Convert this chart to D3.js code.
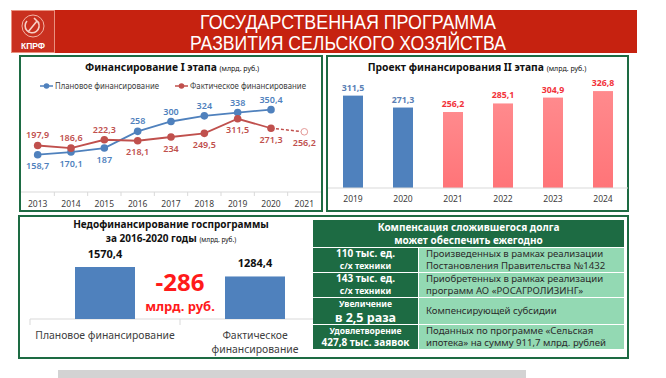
<!DOCTYPE html>
<html>
<head>
<meta charset="utf-8">
<title>Госпрограмма развития сельского хозяйства</title>
<script src="https://cdn.jsdelivr.net/npm/d3@7/dist/d3.min.js"></script>
<style>
  body { margin: 0; background: #fff; }
  svg text { font-family: "Noto Sans", "Open Sans", sans-serif; }
  .hdr text { font-family: "Liberation Sans Narrow", "Liberation Sans", Arial, sans-serif; }
</style>
</head>
<body>
<svg id="chart" width="666" height="378"></svg>

<script>
  // --- data ---
  var headerLines = ['ГОСУДАРСТВЕННАЯ ПРОГРАММА', 'РАЗВИТИЯ СЕЛЬСКОГО ХОЗЯЙСТВА'];

  // stage I: planned vs actual
  var years1 = ['2013', '2014', '2015', '2016', '2017', '2018', '2019', '2020', '2021'];
  var planned = [158.7, 170.1, 187, 258, 300, 324, 338, 350.4];
  var actual = [197.9, 186.6, 222.3, 218.1, 234, 249.5, 311.5, 271.3];
  var actual2021 = 256.2;  // dashed continuation
  var seriesNames = ['Плановое финансирование', 'Фактическое финансирование'];

  // stage II project
  var years2 = ['2019', '2020', '2021', '2022', '2023', '2024'];
  var values2 = [311.5, 271.3, 256.2, 285.1, 304.9, 326.8];
  var kind2 = ['fact', 'fact', 'project', 'project', 'project', 'project'];

  // underfunding 2016-2020
  var cats3 = [['Плановое финансирование'], ['Фактическое', 'финансирование']];
  var totals3 = [1570.4, 1284.4];

  // table
  var tableHead = ['Компенсация сложившегося долга', 'может обеспечить ежегодно'];
  var leftCol = [
    ['110 тыс. ед.', 'с/х техники'],
    ['143 тыс. ед.', 'с/х техники'],
    ['Увеличение', 'в 2,5 раза'],
    ['Удовлетворение', '427,8 тыс. заявок']
  ];
  var rightCol = [
    ['Произведенных в рамках реализации', 'Постановления Правительства №1432'],
    ['Приобретенных в рамках реализации', 'программ АО «РОСАГРОЛИЗИНГ»'],
    ['Компенсирующей субсидии'],
    ['Поданных по программе «Сельская', 'ипотека» на сумму 911,7 млрд. рублей']
  ];

  var fmt = v => String(v).replace('.', ',');
  var colors = { blue: '#4f81bd', red: '#c0504d', pink: '#ff7c80', pinkText: '#f2333b',
    green: '#1d6b43', mint: '#93d9b3', axis: '#d9d9d9', text: '#404040' };

  var svg = d3.select('#chart');

  // --- header ---
  var hdr = svg.append('g').attr('class', 'hdr');
  hdr.append('rect').attr('x', 11).attr('y', 10).attr('width', 626).attr('height', 43).attr('fill', '#c62210');
  hdr.append('rect').attr('x', 11.5).attr('y', 10.5).attr('width', 43).attr('height', 42)
    .attr('fill', '#c9301f').attr('stroke', '#e9917f').attr('stroke-width', 1);
  hdr.append('circle').attr('cx', 33).attr('cy', 26).attr('r', 11)
    .attr('fill', 'none').attr('stroke', '#f2b4a6').attr('stroke-width', 1);
  // hammer and sickle (rough)
  hdr.append('path').attr('d', 'M27,21 A7,7 0 1 0 38,22').attr('fill', 'none').attr('stroke', '#f7d0c6').attr('stroke-width', 1.6);
  hdr.append('path').attr('d', 'M28,32 L37,21 M34,18 L39,23').attr('fill', 'none').attr('stroke', '#f7d0c6').attr('stroke-width', 1.6);
  hdr.append('text').attr('x', 33).attr('y', 48.5).attr('text-anchor', 'middle')
    .attr('font-size', 8.5).attr('font-weight', 'bold').attr('fill', '#fff')
    .style('font-family', '"Liberation Sans", Arial, sans-serif').text('КПРФ');
  hdr.selectAll('.ht').data(headerLines).enter().append('text')
    .attr('x', 348).attr('y', (d, i) => 29 + i * 21)
    .attr('text-anchor', 'middle').attr('fill', '#fff').attr('font-size', 20)
    .attr('textLength', (d, i) => i ? 316 : 296).attr('lengthAdjust', 'spacingAndGlyphs')
    .text(d => d);

  // --- panel frames ---
  [[20, 56, 302, 155], [327, 56, 301, 155], [19, 216, 609, 142]].forEach(r => {
    svg.append('rect').attr('x', r[0]).attr('y', r[1]).attr('width', r[2]).attr('height', r[3])
      .attr('fill', '#fff').attr('stroke', colors.green).attr('stroke-width', 2);
  });

  // --- chart 1: line chart ---
  var g1 = svg.append('g');
  var x1 = d3.scaleBand().domain(years1).range([21, 321]);
  var cx1 = d => x1(d) + x1.bandwidth() / 2;
  var y1 = d3.scaleLinear().domain([0, 400]).range([192, 98]);

  var t1 = g1.append('text').attr('x', 172).attr('y', 71).attr('text-anchor', 'middle').attr('fill', '#111');
  t1.append('tspan').attr('font-size', 10.3).attr('font-weight', 'bold').text('Финансирование I этапа ');
  t1.append('tspan').attr('font-size', 7).text('(млрд. руб.)');

  // legend
  var legX = [40, 175], legW = [104, 116];
  [colors.blue, colors.red].forEach((c, i) => {
    g1.append('line').attr('x1', legX[i]).attr('x2', legX[i] + 13).attr('y1', 86).attr('y2', 86)
      .attr('stroke', c).attr('stroke-width', 1.5);
    g1.append('circle').attr('cx', legX[i] + 6.5).attr('cy', 86).attr('r', 2.8).attr('fill', c);
    g1.append('text').attr('x', legX[i] + 15).attr('y', 89).attr('font-size', 8.2)
      .attr('textLength', legW[i]).attr('lengthAdjust', 'spacingAndGlyphs')
      .attr('fill', colors.text).text(seriesNames[i]);
  });

  // x axis
  g1.append('line').attr('x1', 21).attr('x2', 321).attr('y1', 192).attr('y2', 192).attr('stroke', colors.axis);
  g1.selectAll('.tk').data(years1.slice(1)).enter().append('line')
    .attr('x1', d => x1(d)).attr('x2', d => x1(d)).attr('y1', 192).attr('y2', 196).attr('stroke', colors.axis);
  var ax1 = g1.append('g').attr('transform', 'translate(0,192)')
    .call(d3.axisBottom(x1).tickSize(0).tickPadding(9));
  ax1.select('.domain').remove();
  ax1.selectAll('text').attr('font-size', 8.5).attr('fill', colors.text).style('font-family', '"Noto Sans", sans-serif');

  var line1 = d3.line().x(d => cx1(d.year)).y(d => y1(d.v));
  var pData = planned.map((v, i) => ({ year: years1[i], v: v, other: actual[i] }));
  var aData = actual.map((v, i) => ({ year: years1[i], v: v, other: planned[i] }));

  g1.append('path').datum([aData[aData.length - 1], { year: years1[8], v: actual2021 }])
    .attr('d', line1).attr('fill', 'none').attr('stroke', colors.red).attr('stroke-width', 1.5)
    .attr('stroke-dasharray', '3,2');
  g1.append('path').datum(pData).attr('d', line1).attr('fill', 'none').attr('stroke', colors.blue).attr('stroke-width', 1.8);
  g1.append('path').datum(aData).attr('d', line1).attr('fill', 'none').attr('stroke', colors.red).attr('stroke-width', 1.8);

  [[pData, colors.blue], [aData, colors.red]].forEach(s => {
    g1.selectAll(null).data(s[0]).enter().append('circle')
      .attr('cx', d => cx1(d.year)).attr('cy', d => y1(d.v)).attr('r', 3.8).attr('fill', s[1]);
    g1.selectAll(null).data(s[0]).enter().append('text')
      .attr('x', d => cx1(d.year))
      .attr('y', d => y1(d.v) + (d.v < d.other ? 14.5 : -7))
      .attr('text-anchor', 'middle').attr('font-size', 9).attr('font-weight', 600).attr('fill', s[1])
      .text(d => fmt(d.v));
  });
  g1.append('circle').attr('cx', cx1(years1[8])).attr('cy', y1(actual2021)).attr('r', 3.3)
    .attr('fill', '#fff').attr('stroke', '#e49a98').attr('stroke-width', 1);
  g1.append('text').attr('x', cx1(years1[8])).attr('y', y1(actual2021) + 14.5)
    .attr('text-anchor', 'middle').attr('font-size', 9).attr('font-weight', 600).attr('fill', colors.red).text(fmt(actual2021));

  // --- chart 2: bar chart ---
  var g2 = svg.append('g');
  var x2 = d3.scaleBand().domain(years2).range([328, 628]).paddingInner(0.6).paddingOuter(0.3);
  var y2 = d3.scaleLinear().domain([0, 350]).range([188, 84.2]);
  var t2 = g2.append('text').attr('x', 477).attr('y', 71).attr('text-anchor', 'middle').attr('fill', '#111');
  t2.append('tspan').attr('font-size', 10.3).attr('font-weight', 'bold').text('Проект финансирования II этапа ');
  t2.append('tspan').attr('font-size', 7).text('(млрд. руб.)');

  var grad = svg.append('defs').append('linearGradient').attr('id', 'pinkGrad')
    .attr('x1', 0).attr('x2', 0).attr('y1', 0).attr('y2', 1);
  grad.append('stop').attr('offset', '0%').attr('stop-color', '#ff8a8d');
  grad.append('stop').attr('offset', '100%').attr('stop-color', '#ff7478');

  g2.selectAll('.bar').data(values2).enter().append('rect')
    .attr('x', (d, i) => x2(years2[i])).attr('width', x2.bandwidth())
    .attr('y', d => y2(d)).attr('height', d => y2(0) - y2(d))
    .attr('fill', (d, i) => kind2[i] === 'fact' ? colors.blue : 'url(#pinkGrad)');
  g2.selectAll('.lbl').data(values2).enter().append('text')
    .attr('x', (d, i) => x2(years2[i]) + x2.bandwidth() / 2).attr('y', d => y2(d) - 5)
    .attr('text-anchor', 'middle').attr('font-size', 8.8).attr('font-weight', 'bold')
    .attr('fill', (d, i) => kind2[i] === 'fact' ? '#5b7fb5' : colors.pinkText)
    .text(d => fmt(d));
  g2.append('line').attr('x1', 328).attr('x2', 628).attr('y1', 188).attr('y2', 188).attr('stroke', colors.axis);
  var ax2 = g2.append('g').attr('transform', 'translate(0,188)')
    .call(d3.axisBottom(x2).tickSize(0).tickPadding(8));
  ax2.select('.domain').remove();
  ax2.selectAll('text').attr('font-size', 8.5).attr('fill', colors.text).style('font-family', '"Noto Sans", sans-serif');

  // --- chart 3: underfunding ---
  var g3 = svg.append('g');
  var x3 = d3.scaleBand().domain(cats3.map(d => d.join(' '))).range([30, 330]).paddingInner(0.6).paddingOuter(0.3);
  var y3 = d3.scaleLinear().domain([0, 1800]).range([319, 259.4]);
  g3.append('text').attr('x', 171).attr('y', 228).attr('text-anchor', 'middle')
    .attr('font-size', 10).attr('font-weight', 'bold').attr('fill', '#111').text('Недофинансирование госпрограммы');
  var t3 = g3.append('text').attr('x', 171).attr('y', 242).attr('text-anchor', 'middle').attr('fill', '#111');
  t3.append('tspan').attr('font-size', 10).attr('font-weight', 'bold').text('за 2016-2020 годы ');
  t3.append('tspan').attr('font-size', 6.5).text('(млрд. руб.)');

  g3.append('line').attr('x1', 30).attr('x2', 330).attr('y1', 319).attr('y2', 319).attr('stroke', colors.axis);
  [30, 180].forEach(xx => g3.append('line').attr('x1', xx).attr('x2', xx).attr('y1', 319).attr('y2', 325).attr('stroke', colors.axis));

  g3.selectAll('.bar').data(totals3).enter().append('rect')
    .attr('x', (d, i) => x3(cats3[i].join(' '))).attr('width', x3.bandwidth())
    .attr('y', d => y3(d)).attr('height', d => y3(0) - y3(d)).attr('fill', colors.blue);
  g3.selectAll('.lbl').data(totals3).enter().append('text')
    .attr('x', (d, i) => x3(cats3[i].join(' ')) + x3.bandwidth() / 2).attr('y', d => y3(d) - 9)
    .attr('text-anchor', 'middle').attr('font-size', 11).attr('font-weight', 'bold').attr('fill', '#111')
    .text(d => fmt(d));
  cats3.forEach((lines, i) => {
    lines.forEach((s, j) => {
      g3.append('text').attr('x', x3(lines.join(' ')) + x3.bandwidth() / 2).attr('y', 339 + j * 14)
        .attr('text-anchor', 'middle').attr('font-size', 10.4).attr('fill', colors.text).text(s);
    });
  });
  var diff = Math.round(totals3[1] - totals3[0]);
  g3.append('text').attr('x', 180).attr('y', 291).attr('text-anchor', 'middle')
    .attr('font-size', 24).attr('font-weight', 'bold').attr('fill', '#ff1a1a').text(diff);
  g3.append('text').attr('x', 180).attr('y', 311).attr('text-anchor', 'middle')
    .attr('font-size', 13).attr('font-weight', 'bold').attr('fill', '#ff1a1a').text('млрд. руб.');

  // --- table ---
  var gt = svg.append('g');
  var colX = [313, 418, 624];
  var rowY = [220, 247, 272, 297, 324, 349];
  var leftSizes = [[10, 8.5], [10, 8.5], [8.5, 12.5], [8.5, 10]];
  gt.append('rect').attr('x', colX[0]).attr('y', rowY[0]).attr('width', colX[2] - colX[0]).attr('height', rowY[1] - rowY[0])
    .attr('fill', colors.green);
  tableHead.forEach((s, j) => gt.append('text').attr('x', (colX[0] + colX[2]) / 2).attr('y', 231 + j * 13)
    .attr('text-anchor', 'middle').attr('font-size', 10).attr('font-weight', 'bold').attr('fill', '#fff').text(s));

  leftCol.forEach((lines, i) => {
    var top = rowY[i + 1], bot = rowY[i + 2], mid = (top + bot) / 2;
    gt.append('rect').attr('x', colX[0]).attr('y', top + 1).attr('width', colX[1] - colX[0]).attr('height', bot - top - 1)
      .attr('fill', colors.green);
    gt.append('rect').attr('x', colX[1] + 1).attr('y', top + 1).attr('width', colX[2] - colX[1] - 1).attr('height', bot - top - 1)
      .attr('fill', colors.mint);
    var sp = i === 2 ? 15 : 12;
    lines.forEach((s, j) => gt.append('text').attr('x', (colX[0] + colX[1]) / 2)
      .attr('y', mid + (j - (lines.length - 1) / 2) * sp + 3.5)
      .attr('text-anchor', 'middle').attr('font-size', leftSizes[i][j]).attr('font-weight', 'bold')
      .attr('fill', '#fff').text(s));
    var r = rightCol[i];
    r.forEach((s, j) => gt.append('text').attr('x', colX[1] + 8)
      .attr('y', mid + (j - (r.length - 1) / 2) * 12 + 3)
      .attr('font-size', 9.6).attr('fill', '#2b2b2b').text(s));
  });

  // gray strip at the bottom (next slide text, cut off)
  svg.append('rect').attr('x', 58).attr('y', 370).attr('width', 468).attr('height', 10).attr('fill', '#d3d3d3');
</script>
</body>
</html>
